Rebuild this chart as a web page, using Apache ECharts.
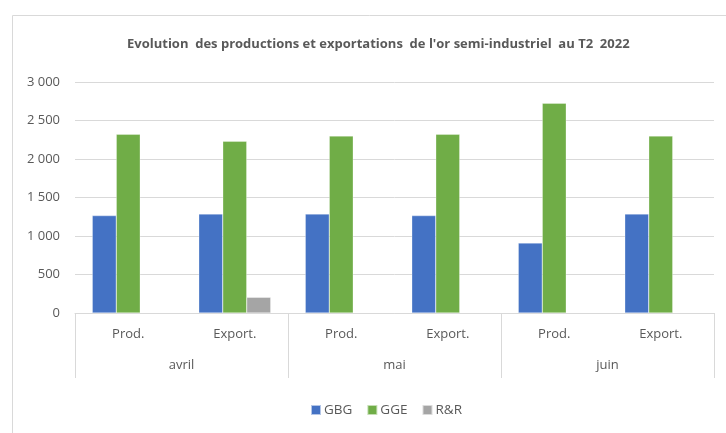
<!DOCTYPE html>
<html>
<head>
<meta charset="utf-8">
<script src="https://cdn.jsdelivr.net/npm/echarts@6/dist/echarts.min.js"></script>
<style>
  html, body { margin: 0; padding: 0; background: #fff; }
  #chart { width: 726px; height: 433px; }
</style>
</head>
<body>
<div id="chart"></div>
<script>
// categories
const subCategories = ['Prod.', 'Export.', 'Prod.', 'Export.', 'Prod.', 'Export.']
const months = ['avril', 'mai', 'juin']
// series values
const gbg = [1265, 1286, 1286, 1265, 909, 1286]
const gge = [2321, 2230, 2299, 2321, 2724, 2299]
const rr = [null, 204, null, null, null, null]
const seriesNames = ['GBG', 'GGE', 'R&R']

const textColor = '#595959'
const font = '"Open Sans", sans-serif'

let myChart = echarts.init(document.getElementById('chart'))
let option = {
  animation: false,
  title: {
    text: "Evolution  des productions et exportations  de l'or semi-industriel  au T2  2022",
    left: 122,
    top: 33,
    textStyle: { color: textColor, fontSize: 13, fontWeight: 'bold', fontFamily: font }
  },
  legend: {
    bottom: 11,
    left: 305,
    itemWidth: 10,
    itemHeight: 10,
    itemGap: 14,
    icon: 'rect',
    textStyle: { color: textColor, fontSize: 13.5, fontFamily: font, padding: [0, 0, 0, -2] },
    data: seriesNames
  },
  color: ['#4472C4', '#70AD47', '#A5A5A5'],
  grid: { left: 75, right: 12, top: 82, bottom: 120 },
  xAxis: [{
    type: 'category',
    data: subCategories,
    axisLine: { lineStyle: { color: '#d9d9d9', width: 1 } },
    axisTick: { show: false },
    axisLabel: { color: textColor, fontSize: 13, fontFamily: font, margin: 15 }
  }, {
    type: 'category',
    position: 'bottom',
    data: months,
    axisLine: { show: false },
    axisTick: { show: true, length: 65, lineStyle: { color: '#d9d9d9' } },
    axisLabel: { color: textColor, fontSize: 13, fontFamily: font, margin: 46 },
    splitLine: { show: false }
  }],
  yAxis: {
    type: 'value',
    min: 0,
    max: 3000,
    interval: 500,
    axisLine: { show: false },
    axisTick: { show: false },
    axisLabel: {
      color: textColor, fontSize: 13, fontFamily: font, margin: 15,
      formatter: v => v >= 1000 ? Math.floor(v / 1000) + ' ' + String(v % 1000).padStart(3, '0') : String(v)
    },
    splitLine: { lineStyle: { color: '#d9d9d9', width: 1 } }
  },
  graphic: [{
    type: 'rect',
    left: 10,
    top: 13,
    shape: { width: 740, height: 440 },
    style: { fill: 'none', stroke: '#d9d9d9', lineWidth: 1 },
    silent: true,
    z: -1
  }],
  series: [gbg, gge, rr].map((d, i) => ({
    name: seriesNames[i],
    type: 'bar',
    data: d,
    barWidth: 24,
    barGap: '0%',
    itemStyle: { borderColor: 'rgba(255,255,255,0.6)', borderWidth: 0.5 }
  }))
}
myChart.setOption(option)
</script>
</body>
</html>
